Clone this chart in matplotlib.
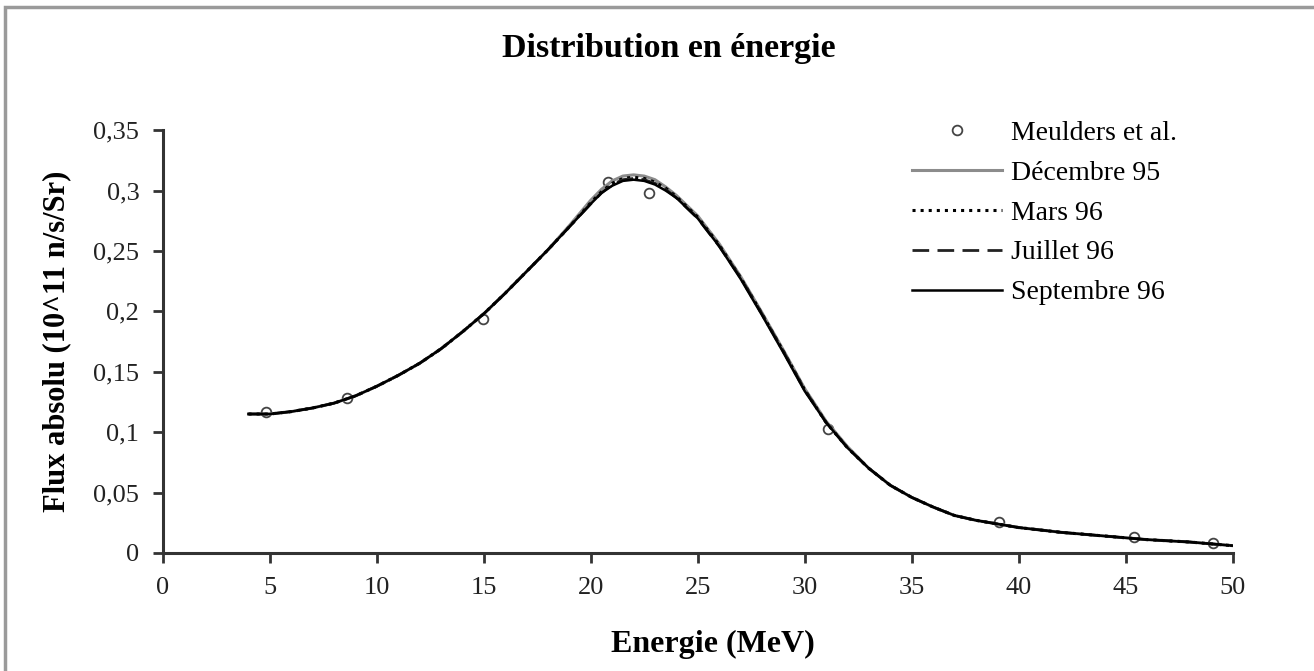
import numpy as np
import matplotlib
matplotlib.use("Agg")
import matplotlib.pyplot as plt
from matplotlib.ticker import FuncFormatter, MultipleLocator
from matplotlib.patches import Rectangle

plt.rcParams['font.family'] = ['Liberation Serif', 'DejaVu Serif']

# ====================== données ======================
# points expérimentaux (Meulders et al.)
meul_E = [4.8, 8.6, 14.95, 20.8, 22.7, 31.1, 39.1, 45.4, 49.1]
meul_F = [0.117, 0.128, 0.194, 0.307, 0.298, 0.103, 0.026, 0.013, 0.008]

# énergies communes aux quatre mesures
E = [4, 5, 6, 7, 8, 9, 10, 11, 12, 13, 14, 15, 16, 17, 18, 19, 20, 20.5, 21, 21.5,
     22, 22.5, 23, 23.5, 24, 25, 26, 27, 28, 29, 30, 31, 32, 33, 34, 35, 36, 37,
     38, 39, 40, 42, 44, 46, 48, 50]

dec95 = [0.115, 0.115, 0.117, 0.120, 0.124, 0.130, 0.138, 0.147, 0.157, 0.169, 0.183, 0.198,
         0.215, 0.233, 0.251, 0.271, 0.292, 0.301, 0.308, 0.312, 0.313, 0.312, 0.309, 0.303,
         0.296, 0.279, 0.256, 0.229, 0.199, 0.168, 0.136, 0.109, 0.088, 0.070, 0.056, 0.046,
         0.038, 0.031, 0.027, 0.024, 0.021, 0.017, 0.014, 0.011, 0.009, 0.006]
mars96 = [0.115, 0.115, 0.117, 0.120, 0.124, 0.130, 0.138, 0.147, 0.157, 0.169, 0.183, 0.198,
          0.215, 0.233, 0.251, 0.270, 0.290, 0.299, 0.306, 0.310, 0.311, 0.310, 0.307, 0.302,
          0.295, 0.278, 0.255, 0.228, 0.198, 0.167, 0.135, 0.108, 0.087, 0.070, 0.056, 0.046,
          0.038, 0.031, 0.027, 0.024, 0.021, 0.017, 0.014, 0.011, 0.009, 0.006]
juil96 = [0.115, 0.115, 0.117, 0.120, 0.124, 0.130, 0.138, 0.147, 0.157, 0.169, 0.183, 0.198,
          0.215, 0.233, 0.251, 0.270, 0.289, 0.298, 0.305, 0.309, 0.310, 0.309, 0.306, 0.301,
          0.294, 0.277, 0.254, 0.228, 0.198, 0.167, 0.135, 0.108, 0.087, 0.070, 0.056, 0.046,
          0.038, 0.031, 0.027, 0.024, 0.021, 0.017, 0.014, 0.011, 0.009, 0.006]
sept96 = [0.115, 0.115, 0.117, 0.120, 0.124, 0.130, 0.138, 0.147, 0.157, 0.169, 0.183, 0.198,
          0.215, 0.233, 0.251, 0.270, 0.289, 0.298, 0.304, 0.308, 0.309, 0.308, 0.305, 0.300,
          0.294, 0.277, 0.254, 0.227, 0.197, 0.166, 0.134, 0.108, 0.087, 0.070, 0.056, 0.046,
          0.038, 0.031, 0.027, 0.024, 0.021, 0.017, 0.014, 0.011, 0.009, 0.006]

# ====================== figure ======================
fig = plt.figure(figsize=(13.14, 6.71), dpi=100)
ax = fig.add_axes([0.124, 0.176, 0.814, 0.630])

ax.plot(meul_E, meul_F, 'o', mfc='white', mec='#444444', ms=7, mew=1.3,
        label="Meulders et al.", zorder=1)
ax.plot(E, dec95, '-', color='#8c8c8c', lw=2.2, label="Décembre 95")
ax.plot(E, mars96, ':', color='black', lw=2.2, label="Mars 96")
ax.plot(E, juil96, '--', color='#222222', lw=2.0, dashes=(6, 3), label="Juillet 96")
ax.plot(E, sept96, '-', color='black', lw=1.8, label="Septembre 96")

ax.set_xlim(0, 50)
ax.set_ylim(0, 0.35)
ax.xaxis.set_major_locator(MultipleLocator(5))
ax.yaxis.set_major_locator(MultipleLocator(0.05))
ax.yaxis.set_major_formatter(FuncFormatter(lambda v, p: f"{v:.2f}".rstrip('0').rstrip('.').replace('.', ',')))

for s in ['top', 'right']:
    ax.spines[s].set_visible(False)
for s in ['left', 'bottom']:
    ax.spines[s].set_linewidth(2.2)
    ax.spines[s].set_color('#333333')
ax.tick_params(direction='out', length=7, width=2, colors='#333333', labelsize=19,
               labelcolor='#222222', pad=10)

ax.set_xlabel("Energie (MeV)", fontsize=23, fontweight='bold')
ax.xaxis.set_label_coords(0.514, -0.182)
ax.set_ylabel("Flux absolu (10^11 n/s/Sr)", fontsize=22, fontweight='bold', labelpad=16)
fig.text(0.509, 0.927, "Distribution en énergie", ha='center', va='center',
         fontsize=24.5, fontweight='bold')

leg = ax.legend(loc='upper left', bbox_to_anchor=(0.675, 0.858), bbox_transform=fig.transFigure,
                frameon=False, fontsize=20, handlelength=3.25, handletextpad=0.3,
                labelspacing=0.52)

# cadre gris autour de l'image
fig.patches.append(Rectangle((0.004, -0.01), 1.2, 1.0, transform=fig.transFigure,
                             fill=False, edgecolor='#9a9a9a', lw=2.5))

fig.savefig("out.png", dpi=100)
